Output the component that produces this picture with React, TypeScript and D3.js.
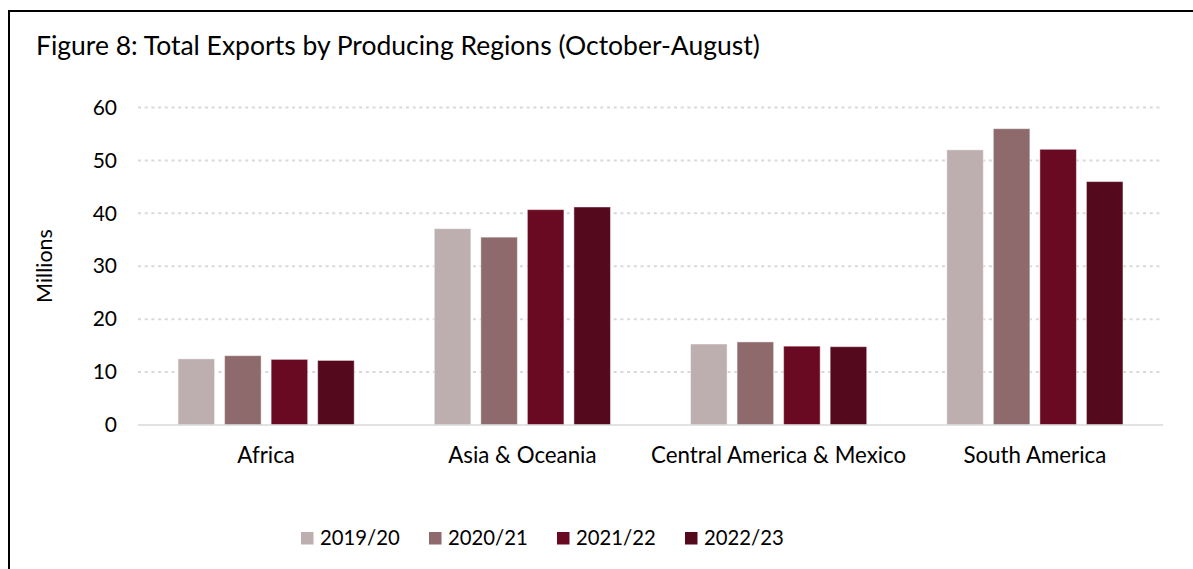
import { useEffect, useRef } from "react";
import * as d3 from "d3";

const regions = ["Africa", "Asia & Oceania", "Central America & Mexico", "South America"];
const seasons = ["2019/20", "2020/21", "2021/22", "2022/23"];
const colors = ["#bdafaf", "#8e6a6d", "#6a0a22", "#55091d"];

// exports in millions, one array per season (same order as regions)
const exports1920 = [12.5, 37.1, 15.3, 52.0];
const exports2021 = [13.1, 35.5, 15.7, 56.0];
const exports2122 = [12.4, 40.7, 14.9, 52.1];
const exports2223 = [12.2, 41.2, 14.8, 46.0];

const yTicks = [0, 10, 20, 30, 40, 50, 60];

export default function App() {
    const svgRef = useRef<SVGSVGElement | null>(null);

    useEffect(() => {
        const width = 1193;
        const height = 569;
        const marginLeft = 138;
        const plotRight = 1163;
        const marginTop = 107.5;
        const baseline = 425;
        const font = "Lato, 'Open Sans', sans-serif";

        const svg = d3.select(svgRef.current)
            .attr("width", width)
            .attr("height", height)
            .attr("viewBox", `0 0 ${width} ${height}`);
        svg.selectAll("*").remove();

        const series = [exports1920, exports2021, exports2122, exports2223];

        // outer frame (runs off the right/bottom of the picture)
        svg.append("rect")
            .attr("x", 9)
            .attr("y", 11)
            .attr("width", 1300)
            .attr("height", 700)
            .attr("fill", "#fff")
            .attr("stroke", "#000")
            .attr("stroke-width", 2);

        svg.append("text")
            .attr("x", 36)
            .attr("y", 55)
            .attr("font-family", font)
            .attr("font-size", 26.5)
            .attr("fill", "#000")
            .text("Figure 8: Total Exports by Producing Regions (October-August)");

        // Scales
        const x0 = d3.scaleBand<string>()
            .domain(regions)
            .range([marginLeft, plotRight])
            .paddingInner(0)
            .paddingOuter(0);

        const groupW = x0.bandwidth() * 0.6875;
        const x1 = d3.scaleBand<string>()
            .domain(seasons)
            .range([-groupW / 2, groupW / 2])
            .paddingInner(0.215)
            .paddingOuter(0);

        const y = d3.scaleLinear()
            .domain([0, 60])
            .range([baseline, marginTop]);

        // gridlines
        svg.append("g")
            .selectAll("line")
            .data(yTicks.filter(t => t > 0))
            .enter()
            .append("line")
            .attr("x1", marginLeft)
            .attr("x2", plotRight)
            .attr("y1", d => y(d))
            .attr("y2", d => y(d))
            .attr("stroke", "#d9d9d9")
            .attr("stroke-width", 2)
            .attr("stroke-dasharray", "3,3.7");

        // Y-axis labels
        const yAxis = svg.append("g")
            .attr("transform", `translate(${marginLeft - 16},0)`)
            .call(d3.axisLeft(y).tickValues(yTicks).tickSize(0).tickPadding(5))
            .call(g => g.select(".domain").remove());
        yAxis.selectAll("text")
            .attr("font-family", font)
            .attr("font-size", 21)
            .attr("fill", "#000");

        svg.append("text")
            .attr("transform", `translate(52,266) rotate(-90)`)
            .attr("text-anchor", "middle")
            .attr("font-family", font)
            .attr("font-size", 21.5)
            .attr("fill", "#000")
            .text("Millions");

        // bars
        const groups = svg.append("g")
            .selectAll("g")
            .data(regions)
            .enter()
            .append("g")
            .attr("transform", d => `translate(${(x0(d) ?? 0) + x0.bandwidth() / 2},0)`);

        groups.selectAll("rect")
            .data((_, i) => seasons.map((s, k) => ({ season: s, value: series[k][i], color: colors[k] })))
            .enter()
            .append("rect")
            .attr("x", d => x1(d.season) ?? 0)
            .attr("y", d => y(d.value))
            .attr("width", x1.bandwidth())
            .attr("height", d => baseline - y(d.value))
            .attr("fill", d => d.color)
            .attr("stroke", "rgba(255,255,255,0.45)")
            .attr("stroke-width", 1);

        // baseline
        svg.append("line")
            .attr("x1", marginLeft)
            .attr("x2", plotRight)
            .attr("y1", baseline)
            .attr("y2", baseline)
            .attr("stroke", "#d9d9d9")
            .attr("stroke-width", 1.5);

        // X-axis labels
        const xAxis = svg.append("g")
            .attr("transform", `translate(0,${baseline})`)
            .call(d3.axisBottom(x0).tickSize(0).tickPadding(22))
            .call(g => g.select(".domain").remove());
        xAxis.selectAll("text")
            .attr("font-family", font)
            .attr("font-size", 22.3)
            .attr("fill", "#000");

        // legend
        const legendX = d3.scalePoint<string>()
            .domain(seasons)
            .range([301, 685]);
        const legend = svg.append("g")
            .selectAll("g")
            .data(seasons)
            .enter()
            .append("g")
            .attr("transform", d => `translate(${legendX(d)},532)`);
        legend.append("rect")
            .attr("width", 12.5)
            .attr("height", 12.5)
            .attr("fill", (_, i) => colors[i]);
        legend.append("text")
            .attr("x", 19)
            .attr("y", 13)
            .attr("font-family", font)
            .attr("font-size", 20.3)
            .attr("fill", "#000")
            .text(d => d);
    }, []);

    return (
        <svg ref={svgRef} style={{ position: "absolute", left: 0, top: 0, background: "#fff" }} />
    );
}
